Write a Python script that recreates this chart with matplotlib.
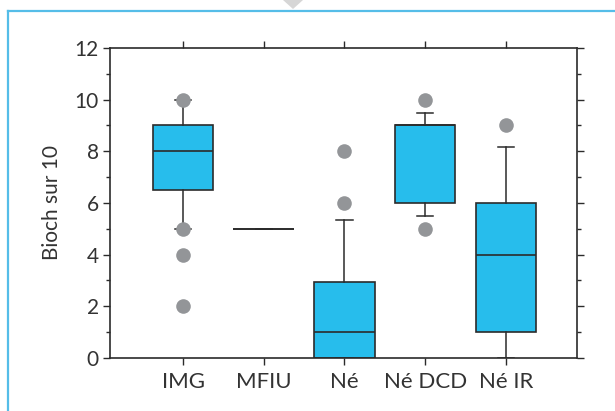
import numpy as np
import matplotlib
matplotlib.use("Agg")
import matplotlib.pyplot as plt
from matplotlib.lines import Line2D
from matplotlib.patches import Polygon
from matplotlib.ticker import MultipleLocator

plt.rcParams['font.family'] = ['Lato', 'DejaVu Sans']

categories = ["IMG", "MFIU", "Né", "Né DCD", "Né IR"]
medians = [8, 5, 1, 9, 4]
q1s = [6.5, 5, 0, 6, 1]
q3s = [9, 5, 2.95, 9, 6]
whis_lo = [5, 5, 0, 5.5, 0]
whis_hi = [10, 5, 5.35, 9.5, 8.15]
outliers = [[10, 5, 4, 2], [], [6, 8], [10, 5], [9]]

stats = []
for i, name in enumerate(categories):
    stats.append(dict(label=name, med=medians[i], q1=q1s[i], q3=q3s[i],
                      whislo=whis_lo[i], whishi=whis_hi[i], fliers=outliers[i]))

fig = plt.figure(figsize=(6.15, 4.11), dpi=100)
ax = fig.add_axes([0.1789, 0.129, 0.7593, 0.7542])

edge = '#2b2b2b'
ax.bxp(stats, positions=np.arange(1, 6), widths=0.75, patch_artist=True,
       boxprops=dict(facecolor='#27bdec', edgecolor=edge, linewidth=1.2),
       medianprops=dict(color=edge, linewidth=1.2),
       whiskerprops=dict(color=edge, linewidth=1.1),
       capprops=dict(color=edge, linewidth=1.1),
       capwidths=0.2,
       flierprops=dict(marker='o', markerfacecolor='#939598', markeredgecolor='none',
                       markersize=10.5))

ax.set_xlim(0.096, 5.88)
ax.set_ylim(0, 12)
ax.set_yticks(np.arange(0, 13, 2))
ax.yaxis.set_minor_locator(MultipleLocator(1))
ax.tick_params(axis='both', which='major', direction='out', length=5, width=1, color=edge,
               top=True, right=True)
ax.tick_params(axis='y', which='minor', direction='out', length=3, width=1, color=edge,
               right=True)
ax.tick_params(axis='y', labelsize=15, pad=3, labelcolor='#333333')
ax.tick_params(axis='x', labelsize=16, pad=5, labelcolor='#333333')
for s in ax.spines.values():
    s.set_color(edge)
    s.set_linewidth(1.2)

ax.set_ylabel("Bioch sur 10", fontsize=15, color='#333333', labelpad=9)

# cadre bleu + petit triangle
W, H = 615, 411
fig.add_artist(Line2D([8 / W, 8 / W], [0, 1 - 11 / H], color='#55bde8', linewidth=1.6,
                      transform=fig.transFigure))
fig.add_artist(Line2D([8 / W, 1], [1 - 11 / H, 1 - 11 / H], color='#55bde8', linewidth=1.6,
                      transform=fig.transFigure))
fig.add_artist(Polygon([[283 / W, 1], [303 / W, 1], [293 / W, 1 - 9 / H]], closed=True,
                       facecolor='#d6d6d6', edgecolor='none', transform=fig.transFigure))

fig.savefig("out.png", dpi=100)
